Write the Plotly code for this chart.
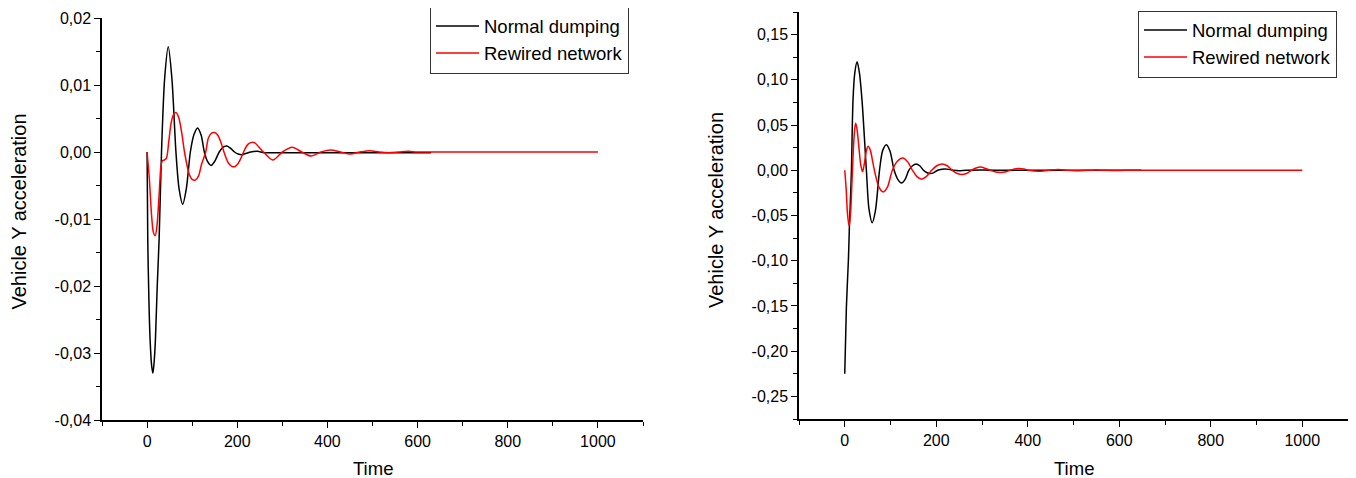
import plotly.graph_objects as go

# ---------------- data ----------------
# Left panel
left_black_t = [0, 1.5, 4, 6.7, 10, 13, 16, 18.5, 22.5, 26.7, 32, 39, 47, 55, 64, 71, 79, 87, 96,
                104, 112, 120, 127, 134, 142, 150, 160, 168, 177, 186, 194, 202, 210, 220, 230,
                245, 260, 300, 400, 500, 630]
left_black_v = [0, -0.013, -0.022, -0.028, -0.0318, -0.033, -0.031, -0.028, -0.020, -0.013, 0.0,
                0.011, 0.0157, 0.011, 0.0, -0.0055, -0.0078, -0.0055, 0.0, 0.0026, 0.0036, 0.0025,
                0.0, -0.0014, -0.002, -0.0014, 0.0, 0.0007, 0.0009, 0.0005, 0.0, -0.0003, -0.0004,
                -0.0002, 0.0, 0.0001, -0.0001, -0.0001, -0.0001, -0.0001, -0.0001]

left_red_t = [0, 5, 10, 14, 18, 22, 27, 31, 34, 38, 43, 48, 53, 58, 64, 70, 77, 83, 93, 100, 107,
              114, 121, 130, 136, 143, 150, 157, 165, 172, 180, 187, 194, 201, 209, 216, 223, 230,
              238, 258, 279, 300, 322, 343, 364, 386, 407, 429, 451, 472, 494, 515, 537, 558, 580,
              600, 700, 800, 900, 1000]
left_red_v = [0, -0.004, -0.0095, -0.012, -0.0125, -0.011, -0.006, -0.002, -0.0013, -0.0012,
              -0.0009, 0.0015, 0.0042, 0.0055, 0.0059, 0.0052, 0.0028, 0.0, -0.0032, -0.0041,
              -0.0042, -0.0036, -0.0018, 0.0, 0.0021, 0.0028, 0.0029, 0.0025, 0.0012, -0.0003,
              -0.0016, -0.0021, -0.0022, -0.0018, -0.0008, 0.0003, 0.0011, 0.0014, 0.0014, 0.0,
              -0.0012, 0.0, 0.0007, 0.0, -0.0006, 0.0, 0.0003, 0.0, -0.0003, 0.0, 0.0002, 0.0,
              -0.0001, 0.0, 0.0001, 0.0, 0.0, 0.0, 0.0, 0.0]

# Right panel
right_black_t = [0, 3.6, 8, 10, 12.4, 14.6, 18, 22, 27, 32, 37.8, 47.3, 53, 60, 67, 76, 83, 91,
                 99, 108, 116, 124, 132, 140, 148, 156, 164, 172, 180, 187, 195, 203, 212, 220,
                 228, 237, 250, 265, 300, 350, 450, 550, 648]
right_black_v = [-0.225, -0.151, -0.099, -0.065, -0.033, 0.0, 0.077, 0.108, 0.120, 0.108, 0.077,
                 0.0, -0.043, -0.058, -0.045, 0.0, 0.022, 0.0283, 0.021, 0.0, -0.010, -0.014,
                 -0.010, 0.0, 0.005, 0.007, 0.005, 0.0, -0.0027, -0.0037, -0.0026, 0.0, 0.0012,
                 0.0015, 0.001, 0.0, -0.0005, 0.0, 0.0002, 0.0, 0.0, 0.0, 0.0]

right_red_t = [0, 3, 6, 9.5, 13, 16, 19, 22, 24, 27, 31, 35, 39, 43, 47, 51, 56, 62, 67, 75, 84,
               93, 104, 115, 127, 138, 148, 158, 168, 178, 190, 201, 213, 224, 235, 246, 256,
               266, 277, 287, 297, 308, 319, 330, 340, 350, 361, 371, 381, 392, 402, 424, 445,
               466, 487, 508, 529, 550, 571, 592, 613, 700, 800, 900, 1000]
right_red_v = [0, -0.02, -0.048, -0.062, -0.045, -0.01, 0.025, 0.047, 0.052, 0.045, 0.025,
               0.006, -0.0015, 0.008, 0.021, 0.0265, 0.022, 0.007, -0.005, -0.019, -0.024,
               -0.019, 0.0, 0.010, 0.0136, 0.009, 0.0, -0.007, -0.0099, -0.007, 0.0, 0.005,
               0.007, 0.005, 0.0, -0.0035, -0.0047, -0.0035, 0.0, 0.0025, 0.0035, 0.002, 0.0,
               -0.002, -0.0025, -0.002, 0.0, 0.0015, 0.0019, 0.0013, 0.0, -0.0012, 0.0, 0.0009,
               0.0, -0.0006, 0.0, 0.0004, 0.0, -0.0002, 0.0, 0.0, 0.0, 0.0, 0.0]

series_names = ["Normal dumping", "Rewired network"]

x_tickvals = [0, 200, 400, 600, 800, 1000]
x_ticktext = ["0", "200", "400", "600", "800", "1000"]
x_minor = [-100, 100, 300, 500, 700, 900, 1100]

left_y_tickvals = [-0.04, -0.03, -0.02, -0.01, 0.0, 0.01, 0.02]
left_y_ticktext = ["-0,04", "-0,03", "-0,02", "-0,01", "0,00", "0,01", "0,02"]
left_y_minor = [-0.035, -0.025, -0.015, -0.005, 0.005, 0.015]

right_y_tickvals = [-0.25, -0.20, -0.15, -0.10, -0.05, 0.0, 0.05, 0.10, 0.15]
right_y_ticktext = ["-0,25", "-0,20", "-0,15", "-0,10", "-0,05", "0,00", "0,05", "0,10", "0,15"]
right_y_minor = [-0.275, -0.225, -0.175, -0.125, -0.075, -0.025, 0.025, 0.075, 0.125, 0.175]

x_title = "Time"
y_title = "Vehicle Y acceleration"

# ---------------- figure ----------------
# The page body has an 8px default margin, so the figure is drawn offset by 8px.
OFF = 8
W, H = 1356 - OFF, 478 - OFF
FONT = "Arial, 'Liberation Sans', sans-serif"
BLACK = "#000000"
RED = "#ff0000"

fig = go.Figure()

def add(t, v, name, color, xa, ya, leg):
    fig.add_trace(go.Scatter(
        x=t, y=v, name=name, mode="lines",
        line=dict(color=color, width=1.5, shape="spline", smoothing=0.8),
        xaxis=xa, yaxis=ya, legend=leg, hoverinfo="skip"))

add(left_black_t, left_black_v, series_names[0], BLACK, "x", "y", "legend")
add(left_red_t, left_red_v, series_names[1], RED, "x", "y", "legend")
add(right_black_t, right_black_v, series_names[0], BLACK, "x2", "y2", "legend2")
add(right_red_t, right_red_v, series_names[1], RED, "x2", "y2", "legend2")

def px_x(p):
    return (p - OFF) / W

def px_y(p):
    return 1 - (p - OFF) / H

axis_common = dict(
    showline=True, linecolor="black", linewidth=1.5, mirror=False,
    showgrid=False, zeroline=False, ticks="outside", ticklen=6, tickwidth=1.3,
    tickcolor="black", tickfont=dict(family=FONT, size=16, color="black"),
    tickmode="array",
)

def minor(vals):
    return dict(tickvals=vals, ticks="outside", ticklen=4, tickcolor="black",
                tickwidth=1.3, showgrid=False)

legend_common = dict(
    xanchor="center", yanchor="middle", bgcolor="white", bordercolor="#333333",
    borderwidth=1, font=dict(family=FONT, size=18.5, color="black"),
    itemwidth=43, tracegroupgap=0,
)

fig.update_layout(
    width=W, height=H,
    margin=dict(l=0, r=0, t=0, b=0, autoexpand=False),
    paper_bgcolor="white", plot_bgcolor="white",
    font=dict(family=FONT, color="black"),
    xaxis=dict(domain=[px_x(102), px_x(643)], range=[-100, 1100], anchor="y",
               tickvals=x_tickvals, ticktext=x_ticktext, minor=minor(x_minor),
               **axis_common),
    yaxis=dict(domain=[px_y(420), px_y(18)], range=[-0.04, 0.02], anchor="x",
               tickvals=left_y_tickvals, ticktext=left_y_ticktext, minor=minor(left_y_minor),
               **axis_common),
    xaxis2=dict(domain=[px_x(799), px_x(1348)], range=[-100, 1100], anchor="y2",
                tickvals=x_tickvals, ticktext=x_ticktext, minor=minor(x_minor),
                **axis_common),
    yaxis2=dict(domain=[px_y(419), px_y(12)], range=[-0.275, 0.175], anchor="x2",
                tickvals=right_y_tickvals, ticktext=right_y_ticktext, minor=minor(right_y_minor),
                **axis_common),
    legend=dict(x=px_x(529.5), y=px_y(40), **legend_common),
    legend2=dict(x=px_x(1237.5), y=px_y(44), **legend_common),
    showlegend=True,
)

t_font = dict(family=FONT, size=18.5, color="black")
v_font = dict(family=FONT, size=20, color="black")
annotations = [
    dict(text=x_title, x=px_x(372.5), y=px_y(468), xref="paper", yref="paper",
         xanchor="center", yanchor="middle", showarrow=False, font=t_font),
    dict(text=x_title, x=px_x(1073.5), y=px_y(468), xref="paper", yref="paper",
         xanchor="center", yanchor="middle", showarrow=False, font=t_font),
    dict(text=y_title, x=px_x(19), y=px_y(211.5), xref="paper", yref="paper",
         xanchor="center", yanchor="middle", textangle=-90, showarrow=False, font=v_font),
    dict(text=y_title, x=px_x(716), y=px_y(210), xref="paper", yref="paper",
         xanchor="center", yanchor="middle", textangle=-90, showarrow=False, font=v_font),
]
fig.update_layout(annotations=annotations)

fig.write_html("out.html")
